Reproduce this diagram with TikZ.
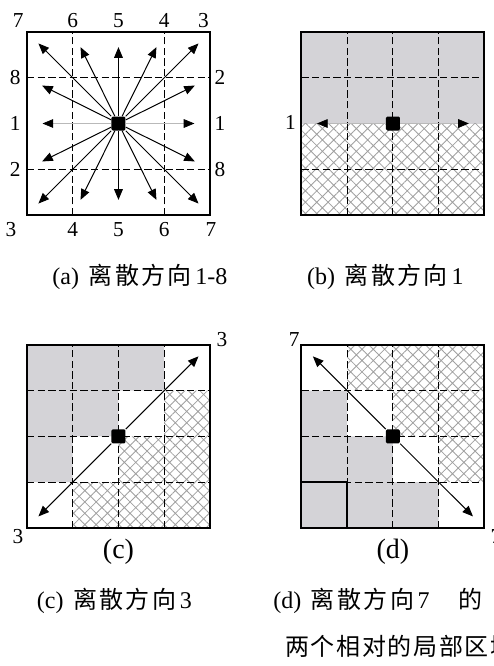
\documentclass[tikz,border=0pt]{standalone}
\usepackage{fontspec}
\setmainfont{Liberation Serif}
\newfontfamily\cjk[LetterSpace=10]{Noto Sans CJK SC}
\newfontfamily\cjkwide[LetterSpace=7]{Noto Sans CJK SC}
\usetikzlibrary{arrows.meta,patterns.meta}

\definecolor{cellgray}{RGB}{212,211,215}
\definecolor{hatchgray}{RGB}{160,160,160}

\tikzset{
  griddash/.style={dash pattern=on 5.5pt off 2.5pt, line width=0.7pt},
  boxline/.style={line width=1.5pt},
  arr/.style={-{Triangle[length=8pt,width=6.5pt]}, line width=0.75pt},
  grayarr/.style={-{Triangle[length=8pt,width=6.5pt,color=black]}, gray!55, line width=0.5pt},
  seed/.style={fill=black, minimum size=10.5pt, inner sep=0pt, rounded corners=1pt},
  grayfill/.style={fill=cellgray},
  crossfill/.style={pattern={Hatch[angle=45,distance=6pt,line width=0.6pt]}, pattern color=hatchgray},
  dirlabel/.style={inner sep=0pt, font=\fontsize{16}{16}\selectfont},
  sublabel/.style={inner sep=0pt, font=\fontsize{21}{21}\selectfont},
  capt/.style={inner sep=0pt, anchor=west, font=\fontsize{18}{20}\selectfont},
}

\begin{document}
\begin{tikzpicture}[x=34.31pt,y=34.31pt]
\useasboundingbox (-0.59,-9.86) rectangle (10.19,4.70);

% (a) directions 1-8
\foreach \v in {1,3} {
  \draw[griddash] (\v,0) -- (\v,4);
  \draw[griddash] (0,\v) -- (4,\v);
}
\draw[boxline] (0,0) rectangle (4,4);
\node[seed] (ca) at (2,2) {};
\draw[grayarr] (ca) -- ++(1.66,0);
\draw[grayarr] (ca) -- ++(-1.66,0);
\foreach \dx/\dy in {-1.75/1.75,-0.83/1.67,0/1.67,0.83/1.67,1.75/1.75,1.67/0.83,1.67/-0.83,
    1.75/-1.75,0.83/-1.67,0/-1.67,-0.83/-1.67,-1.75/-1.75,-1.67/-0.83,-1.67/0.83}
  \draw[arr] (ca) -- ++(\dx,\dy);
\foreach \t/\x in {7/-0.19,6/1,5/2,4/3,3/3.86}
  \node[dirlabel] (at\t) at (\x,4.26) {\t};
\foreach \t/\x in {3/-0.35,4/1,5/2,6/3,7/4.02}
  \node[dirlabel] (ab\t) at (\x,-0.32) {\t};
\foreach \t/\y in {8/3,1/2,2/1}
  \node[dirlabel] (al\t) at (-0.26,\y) {\t};
\foreach \t/\y in {2/3,1/2,8/1}
  \node[dirlabel] (ar\t) at (4.22,\y) {\t};
\node[capt] (capa) at (0.55,-1.35) {(a)\hspace{0.4em}{\cjk 离散方向}\hspace{0.15em}1-8};

% (b) direction 1
\begin{scope}[shift={(6,0)}]
  \fill[grayfill] (0,2) rectangle (4,4);
  \fill[crossfill] (0,0) rectangle (4,2);
  \foreach \v in {1,2,3}
    \draw[griddash] (\v,0) -- (\v,4);
  \foreach \v in {1,3}
    \draw[griddash] (0,\v) -- (4,\v);
  \draw[boxline] (0,0) rectangle (4,4);
  \node[seed] (cb) at (2,2) {};
  \draw[grayarr] (cb) -- ++(1.66,0);
  \draw[grayarr] (cb) -- ++(-1.66,0);
  \node[dirlabel] (bl1) at (-0.24,2.03) {1};
  \node[capt] (capb) at (0.12,-1.35) {(b)\hspace{0.4em}{\cjk 离散方向}\hspace{0.15em}1};
\end{scope}

% (c) direction 3
\begin{scope}[shift={(0,-6.84)}]
  \fill[grayfill] (0,1) -- (0,4) -- (3,4) -- (3,3) -- (2,3) -- (2,2) -- (1,2) -- (1,1) -- cycle;
  \fill[crossfill] (1,0) -- (4,0) -- (4,3) -- (3,3) -- (3,2) -- (2,2) -- (2,1) -- (1,1) -- cycle;
  \foreach \v in {1,2,3} {
    \draw[griddash] (\v,0) -- (\v,4);
    \draw[griddash] (0,\v) -- (4,\v);
  }
  \draw[boxline] (0,0) rectangle (4,4);
  \node[seed] (cc) at (2,2) {};
  \draw[arr] (cc) -- ++(1.75,1.75);
  \draw[arr] (cc) -- ++(-1.75,-1.75);
  \node[dirlabel] (ct3) at (4.26,4.11) {3};
  \node[dirlabel] (cb3) at (-0.2,-0.2) {3};
  \node[sublabel] (subc) at (2,-0.53) {(c)};
  \node[capt] (capc) at (0.21,-1.6) {(c)\hspace{0.4em}{\cjk 离散方向}\hspace{0.15em}3};
\end{scope}

% (d) direction 7
\begin{scope}[shift={(6,-6.84)}]
  \fill[grayfill] (0,0) -- (3,0) -- (3,1) -- (2,1) -- (2,2) -- (1,2) -- (1,3) -- (0,3) -- cycle;
  \fill[crossfill] (1,4) -- (4,4) -- (4,1) -- (3,1) -- (3,2) -- (2,2) -- (2,3) -- (1,3) -- cycle;
  \foreach \v in {1,2,3} {
    \draw[griddash] (\v,0) -- (\v,4);
    \draw[griddash] (0,\v) -- (4,\v);
  }
  \draw[boxline] (0,0) rectangle (1,1);
  \draw[boxline] (0,0) rectangle (4,4);
  \node[seed] (cd) at (2,2) {};
  \draw[arr] (cd) -- ++(-1.75,1.75);
  \draw[arr] (cd) -- ++(1.75,-1.75);
  \node[dirlabel] (dt7) at (-0.16,4.11) {7};
  \node[dirlabel] (db7) at (4.25,-0.2) {7};
  \node[sublabel] (subd) at (2,-0.53) {(d)};
  \node[capt] (capd) at (-0.62,-1.6) {(d)\hspace{0.4em}{\cjk 离散方向}\hspace{0.15em}7\hspace{1.2em}{\cjk 的}};
  \node[capt] (capd2) at (-0.36,-2.58) {{\cjkwide 两个相对的局部区域}};
\end{scope}
\end{tikzpicture}
\end{document}
